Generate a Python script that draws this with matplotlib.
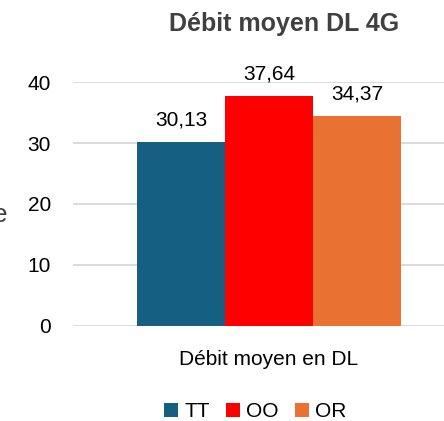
import matplotlib
import matplotlib.pyplot as plt
import numpy as np

plt.rcParams['font.family'] = ['Liberation Sans', 'DejaVu Sans']

categories = ['Débit moyen en DL']
series = ['TT', 'OO', 'OR']
values = [30.13, 37.64, 34.37]
labels = ['30,13', '37,64', '34,37']
colors = ['#156082', '#FF0000', '#E97132']

fig = plt.figure(figsize=(4.44, 4.21), dpi=100)
ax = fig.add_axes([0.1644, 0.2257, 0.8356, 0.5795])

bar_width = 1.0
offsets = [-1, 0, 1]
for i, name in enumerate(series):
    ax.bar(offsets[i], values[i], bar_width, color=colors[i], label=name, zorder=2)
    ax.text(offsets[i], values[i] + 2.1, labels[i], ha='center', va='bottom',
            fontsize=15, color='#000000', zorder=3)

ax.set_xlim(-2.227, 1.989)
ax.set_ylim(0, 40)
ax.set_yticks(range(0, 41, 10))
ax.set_xticks([0])
ax.set_xticklabels(categories, fontsize=15)
ax.tick_params(axis='both', length=0, labelsize=15)
ax.tick_params(axis='y', pad=16)
ax.tick_params(axis='x', pad=17)
ax.grid(axis='y', color='#D9D9D9', linewidth=1.3, zorder=0)
for s in ax.spines.values():
    s.set_visible(False)

fig.text(0.64, 0.942, 'Débit moyen DL 4G', ha='center', va='center',
         fontsize=18, fontweight='bold', color='#404040')
fig.text(0.018, 0.49, 'Moyenne', ha='right', va='center', fontsize=19, color='#404040')

fig.legend(loc='center', bbox_to_anchor=(0.575, 0.022), ncol=3, frameon=False,
           fontsize=15, handlelength=0.65, handleheight=0.65, handletextpad=0.3,
           columnspacing=0.8)

fig.savefig('out.png', dpi=100)
